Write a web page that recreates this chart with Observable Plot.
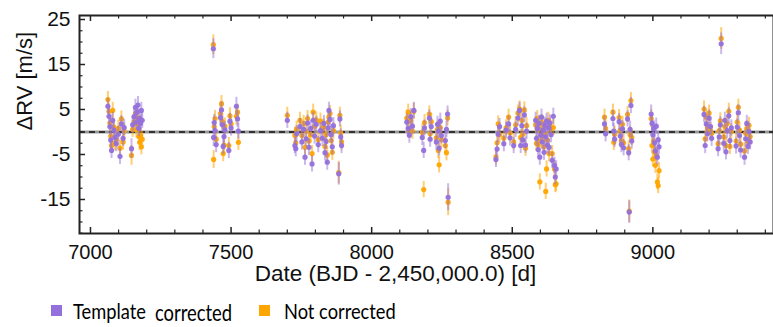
<!DOCTYPE html>
<html>
<head>
<meta charset="utf-8">
<script src="https://cdn.jsdelivr.net/npm/d3@7"></script>
<script src="https://cdn.jsdelivr.net/npm/@observablehq/plot@0.6"></script>
<style>
  html, body { margin: 0; padding: 0; background: #fff; }
  #chart { width: 773px; height: 290px; }
  #legend { position: relative; width: 773px; height: 37px; font-family: Lato, "Open Sans", sans-serif; color: #000; }
  #legend .sw { position: absolute; width: 11px; height: 11px; top: 15px; }
  #legend .tx { position: absolute; font-size: 21px; line-height: 21px; transform-origin: left center; transform: scaleX(0.87); white-space: nowrap; }
</style>
</head>
<body>
<div id="chart"></div>
<div id="legend"></div>
<script>
// [date (BJD-2450000), template corrected, not corrected, error] in m/s
const season1 = [
  [7062,5.7,7.2,1.8],[7066,3.5,4.6,1.8],[7069,1.2,2.0,1.8],[7072,-1.8,-0.9,1.8],[7075,-4.1,-3.0,1.8],
  [7079,2.6,4.8,1.8],[7083,0.4,1.1,1.8],[7087,-1.2,-2.4,1.8],[7092,-2.6,-1.5,1.8],[7099,-0.5,0.8,1.8],
  [7105,-5.4,-3.6,1.8],[7110,1.8,2.9,1.8],[7116,-1.4,-2.2,1.8],[7120,1.0,0.2,1.8],[7146,-3.7,-5.2,2.2],
  [7150,1.6,0.6,1.8],[7155,3.4,2.2,1.8],[7160,5.5,4.1,1.8],[7163,2.2,0.5,1.8],[7166,4.4,1.8,1.8],
  [7169,6.0,3.1,1.9],[7172,0.8,-1.0,1.8],[7175,3.0,-2.3,1.8],[7178,1.9,-0.8,1.8],[7181,4.8,-3.3,1.8],[7184,2.6,-1.6,1.8]
];
const season2 = [
  [7437,18.5,19.4,2.2],
  [7438,-1.2,-6.1,2.0],[7440,2.1,1.2,1.8],[7443,0.3,3.0,1.8],[7447,-2.8,-1.6,1.8],[7462,3.2,4.1,1.8],
  [7466,4.9,6.3,1.8],[7469,1.6,2.3,1.8],[7472,-3.2,-4.8,1.8],[7475,-1.0,-2.9,1.8],[7478,0.5,1.3,1.8],
  [7492,-4.1,-3.0,1.8],[7496,2.4,3.6,1.8],[7500,0.9,1.8,1.8],[7519,5.7,3.5,2.0],[7523,2.9,4.4,1.8],[7526,0.2,-2.3,1.8]
];
const season3 = [
  [7700,2.6,3.7,1.8],[7727,-3.0,-0.7,1.8],[7730,-3.7,-2.4,1.8],[7733,-0.4,0.6,1.8],[7745,1.2,2.6,1.8],
  [7752,-2.2,-0.8,1.8],[7758,0.6,1.9,1.8],[7763,-5.6,-3.4,1.8],[7767,-1.5,0.2,1.8],[7772,2.0,3.0,1.8],
  [7777,-3.4,-2.0,1.8],[7783,0.8,-0.6,1.8],[7788,-7.1,-4.8,1.8],[7792,2.6,4.4,1.8],[7797,-0.9,1.3,1.8],
  [7803,1.7,2.7,1.8],[7810,-2.8,-1.7,1.8],[7818,0.3,2.4,1.8],[7825,-1.4,0.8,1.8],[7830,1.9,1.1,1.8],
  [7834,-4.6,-3.2,1.8],[7838,-2.1,-0.6,1.8],[7842,-6.7,-5.1,1.8],[7845,0.9,2.2,1.8],[7848,4.8,3.3,1.8],
  [7852,2.8,4.1,1.8],[7856,-0.6,-1.9,1.8],[7860,-3.3,-4.5,1.8],[7864,1.4,0.3,1.8],[7883,-9.3,-9.0,2.5],
  [7887,2.9,3.7,1.8],[7890,-1.1,-0.2,1.8],[7893,-3.0,-2.2,1.8]
];
const season4 = [
  [8125,2.2,3.1,1.8],[8130,0.8,4.4,1.8],[8134,-0.7,0.4,1.8],[8139,3.4,2.5,1.8],[8145,1.3,0.2,1.8],
  [8150,4.8,4.6,1.8],[8180,-1.2,-0.1,1.8],[8185,-4.1,-12.8,1.8],[8188,0.9,2.1,1.8],[8205,3.1,4.0,1.8],
  [8208,-1.6,-0.4,1.8],[8212,1.2,2.3,1.8],[8230,-2.2,-1.3,1.8],[8234,1.7,0.6,1.8],[8237,0.2,-4.1,1.8],
  [8240,-3.6,-7.3,1.8],[8244,2.4,1.0,1.8],[8248,-0.8,-1.7,1.8],[8262,-1.9,-3.0,1.8],[8266,0.6,-4.6,1.8],
  [8270,4.0,3.1,1.8],[8272,-14.5,-15.6,3.0]
];
const season5 = [
  [8442,-6.1,-5.5,1.8],[8446,-3.8,-2.4,1.8],[8450,-0.5,1.8,1.8],[8455,1.2,-0.6,1.8],[8470,-2.6,-1.4,1.8],
  [8478,0.4,0.9,1.8],[8487,1.8,3.3,1.8],[8492,-1.3,-0.2,1.8],[8505,-3.0,-2.2,1.8],[8512,0.6,1.6,1.8],
  [8520,3.1,4.2,1.8],[8526,4.8,5.1,1.8],[8530,-3.0,-1.2,1.8],[8534,1.4,2.6,1.8],[8538,-1.8,-0.5,1.8],
  [8543,3.8,4.9,1.8],[8547,-2.9,-3.6,1.8],[8551,0.2,1.4,1.8],[8583,2.6,1.6,1.8],[8586,-1.4,-2.5,1.8],
  [8589,0.8,3.0,1.8],[8592,-3.9,-2.8,1.8],[8595,1.9,0.7,1.8],[8598,-5.6,-11.1,1.8],[8601,-0.7,-1.9,1.8],
  [8604,3.3,2.1,1.8],[8607,-2.2,-0.9,1.8],[8610,0.4,1.5,1.8],[8613,-4.5,-3.3,1.8],[8616,1.5,-0.4,1.8],
  [8619,-1.1,-13.2,1.8],[8622,2.4,-8.2,1.8],[8625,-2.9,-1.8,1.8],[8628,0.9,2.6,1.8],[8631,-3.4,-4.8,1.8],
  [8634,2.0,1.1,1.8],[8638,-0.6,0.7,1.8],[8642,-6.3,-4.8,1.8],[8646,3.5,1.0,1.8],[8650,-7.4,-8.2,1.8],
  [8653,-10.0,-11.7,1.8],[8656,-8.2,-11.5,1.8]
];
const season6 = [
  [8828,1.8,3.3,1.8],[8832,-0.4,0.8,1.8],[8858,3.0,4.4,1.8],[8861,0.2,-2.3,1.8],[8864,-1.6,-0.5,1.8],
  [8880,2.3,3.2,1.8],[8884,-0.9,0.4,1.8],[8888,-2.8,-1.9,1.8],[8892,0.7,1.7,1.8],[8896,-3.5,-2.4,1.8],
  [8910,2.9,3.9,1.8],[8914,-4.6,-3.7,1.8],[8916,-17.8,-17.6,2.5],[8919,0.6,-0.6,1.8],[8922,5.9,7.0,1.8],[8925,-2.0,-1.2,1.8]
];
const season7 = [
  [8994,4.0,3.0,2.0],[8997,1.9,-3.0,1.8],[9000,-0.6,-6.0,1.8],[9003,0.8,-2.1,1.8],[9006,-2.4,-4.4,1.8],
  [9009,-4.2,-7.4,1.8],[9012,1.3,-5.2,1.8],[9016,-5.6,-11.1,1.8],[9019,-1.7,-11.9,1.8],[9022,-3.3,-8.6,1.8]
];
const season8 = [
  [9182,3.9,5.1,1.8],[9186,-3.0,-1.5,1.8],[9190,1.8,3.3,1.8],[9194,-0.4,0.9,1.8],[9200,3.1,4.2,1.8],
  [9205,1.2,0.3,1.8],[9209,-1.4,-0.3,1.8],[9243,19.6,20.8,2.4]
];
const season9 = [
  [9232,-3.7,-2.6,1.8],[9236,-1.1,0.3,1.8],[9240,1.6,2.5,1.8],[9252,-2.5,-1.1,1.8],[9256,2.6,1.2,1.8],
  [9260,-4.4,-3.0,1.8],[9264,0.3,1.9,1.8],[9270,3.6,4.6,1.8],[9274,-1.9,-3.2,1.8],[9279,0.9,0.1,1.8],
  [9296,-3.1,-2.0,1.8],[9300,1.1,2.2,1.8],[9304,4.3,5.5,1.8],[9308,-0.8,0.4,1.8],[9312,-4.0,-2.7,1.8],
  [9326,-5.6,-4.2,1.8],[9330,-1.5,-0.3,1.8],[9334,1.9,0.7,1.8],[9338,-3.2,-2.1,1.8],[9342,0.1,1.5,1.8],[9346,-2.2,-1.0,1.8]
];

const xTickLabels = [7000, 7500, 8000, 8500, 9000];
const yTickLabels = [25, 15, 5, -5, -15];
const seriesNames = ["Template corrected", "Not corrected"];
const seriesColors = ["#9370DB", "#FFA500"];

const data = [season1, season2, season3, season4, season5, season6, season7, season8, season9]
  .flat().map(([date, tc, nc, err]) => ({date, tc, nc, err}));

const W = 773, H = 290, mL = 79, mR = 0, mT = 15, mB = 57;
const plotW = W - mL - mR, plotH = H - mT - mB;
const xMinor = d3.range(7000, 9401, 100).filter(v => !xTickLabels.includes(v));
const yMinor = d3.range(-22.5, 25.01, 2.5).filter(v => !yTickLabels.includes(v));

const chart = Plot.plot({
  width: W, height: H,
  marginLeft: mL, marginRight: mR, marginTop: mT, marginBottom: mB,
  style: {fontFamily: "'Liberation Sans', Arial, sans-serif", color: "#111", background: "#fff"},
  x: {domain: [6961, 9429], label: null},
  y: {domain: [-22.56, 25.89], label: null},
  marks: [
    Plot.ruleY([0], {stroke: "#9a9a9a", strokeWidth: 3}),
    Plot.ruleY([0], {stroke: "#111", strokeWidth: 1.4, strokeDasharray: "6,4"}),
    Plot.ruleX(data, {x: "date", y1: d => d.nc - d.err, y2: d => d.nc + d.err, stroke: seriesColors[1], strokeOpacity: 0.55, strokeWidth: 2}),
    Plot.dot(data, {x: "date", y: "nc", r: 2.6, fill: seriesColors[1], fillOpacity: 0.95}),
    Plot.ruleX(data, {x: "date", y1: d => d.tc - d.err, y2: d => d.tc + d.err, stroke: seriesColors[0], strokeOpacity: 0.5, strokeWidth: 2}),
    Plot.dot(data, {x: "date", y: "tc", r: 2.6, fill: seriesColors[0], fillOpacity: 0.95}),
    // inward ticks
    Plot.tickX(xTickLabels, {x: d => d, insetTop: plotH - 6, stroke: "#222", strokeWidth: 1.5}),
    Plot.tickX(xMinor, {x: d => d, insetTop: plotH - 3.5, stroke: "#222", strokeWidth: 1.2}),
    Plot.tickX(xTickLabels, {x: d => d, insetBottom: plotH - 6, stroke: "#222", strokeWidth: 1.5}),
    Plot.tickX(xMinor, {x: d => d, insetBottom: plotH - 3.5, stroke: "#222", strokeWidth: 1.2}),
    Plot.tickY(yTickLabels, {y: d => d, insetRight: plotW - 6, stroke: "#222", strokeWidth: 1.5}),
    Plot.tickY(yMinor, {y: d => d, insetRight: plotW - 3.5, stroke: "#222", strokeWidth: 1.2}),
    Plot.frame({stroke: "#222", strokeWidth: 2}),
    Plot.axisX(xTickLabels, {tickSize: 0, tickPadding: 11, fontSize: 20, tickFormat: d => String(d)}),
    Plot.axisY(yTickLabels, {tickSize: 0, tickPadding: 9, fontSize: 21, tickFormat: d => String(d)}),
    Plot.text(["Date (BJD - 2,450,000.0) [d]"], {frameAnchor: "bottom", dx: -31, dy: 47, fontSize: 22.5, fill: "#111"}),
    Plot.text(["ΔRV [m/s]"], {frameAnchor: "left", rotate: -90, dx: -55, dy: 6, fontSize: 22, fill: "#111"})
  ]
});
document.getElementById("chart").appendChild(chart);

const legend = document.getElementById("legend");
legend.innerHTML = `
  <div class="sw" style="left:51px;background:${seriesColors[0]}"></div>
  <span class="tx" style="left:73px;top:10px">Template</span>
  <span class="tx" style="left:155px;top:11px;font-size:23px;line-height:23px;transform:scaleX(0.8)">corrected</span>
  <div class="sw" style="left:259px;background:${seriesColors[1]}"></div>
  <span class="tx" style="left:284px;top:10px">Not corrected</span>`;
</script>
</body>
</html>
